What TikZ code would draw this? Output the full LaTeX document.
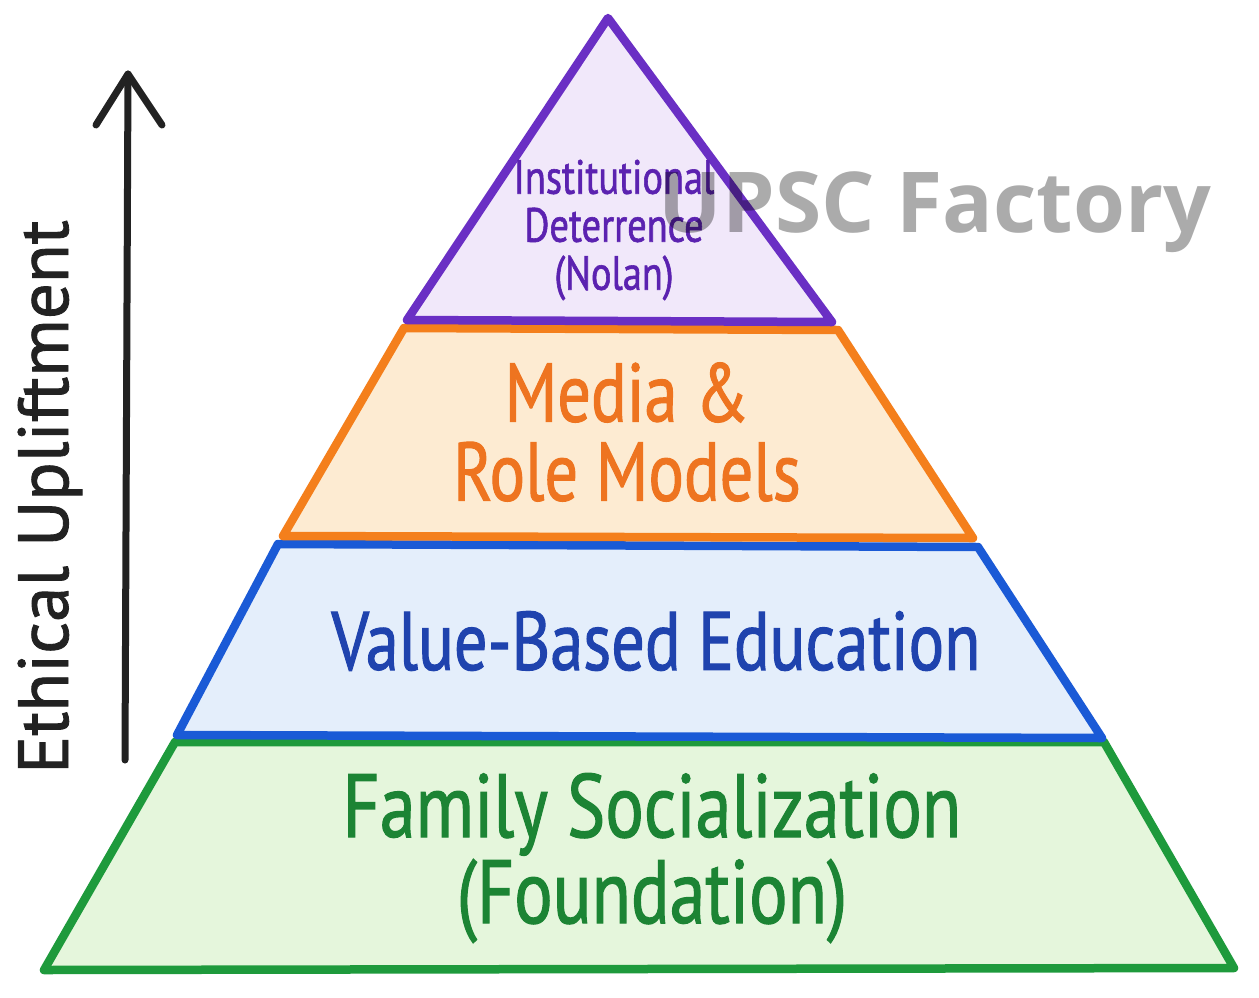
\documentclass[tikz,border=0pt]{standalone}
\usepackage{fontspec}
\newfontfamily\hand[FakeStretch=0.8,FakeBold=1.2]{PT Sans}
\newfontfamily\handwide[FakeStretch=1.0,FakeBold=1.2]{PT Sans}
\newfontfamily\wmark{Open Sans Bold}
\definecolor{pstroke}{HTML}{6A2FC4}
\definecolor{pfill}{HTML}{F1E8FA}
\definecolor{ptext}{HTML}{5B22B0}
\definecolor{ostroke}{HTML}{F47F1C}
\definecolor{ofill}{HTML}{FDEBD2}
\definecolor{otext}{HTML}{EE7420}
\definecolor{bstroke}{HTML}{1A5AD6}
\definecolor{bfill}{HTML}{E4EEFB}
\definecolor{btext}{HTML}{1F43AE}
\definecolor{gstroke}{HTML}{1E9A3C}
\definecolor{gfill}{HTML}{E5F6DC}
\definecolor{gtext}{HTML}{1C8434}
\definecolor{ink}{HTML}{222222}
\tikzset{
  layer/.style={line width=8.5pt, line join=round, line cap=round},
  lbl/.style={align=center, inner sep=0pt},
}
\begin{document}
\begin{tikzpicture}[x=1pt,y=-1pt]
\useasboundingbox (0,0) rectangle (1259,997);
\fill[white] (0,0) rectangle (1259,997);
% layers
\draw[layer, draw=gstroke, fill=gfill] (175,742) -- (1104,742) -- (1234,968) -- (44,970) -- cycle;
\draw[layer, draw=bstroke, fill=bfill] (278,544) -- (978,547) -- (1102,738) -- (177,735) -- cycle;
\draw[layer, draw=ostroke, fill=ofill] (404,328) -- (838,330) -- (973,538) -- (283,536) -- cycle;
\draw[layer, draw=pstroke, fill=pfill] (608,18) -- (832,322) -- (407,320) -- cycle;
% labels
\node[lbl, text=ptext, font={\hand\fontsize{48}{48}\selectfont}] (top) at (614,230) {Institutional\\Deterrence\\(Nolan)};
\node[lbl, text=otext, font={\hand\fontsize{83}{79}\selectfont}] (media) at (627,432) {Media \&\\Role Models};
\node[lbl, text=btext, font={\hand\fontsize{83}{80}\selectfont}] (vbe) at (656,641) {Value-Based Education};
\node[lbl, text=gtext, font={\hand\fontsize{90}{86}\selectfont}] (fam) at (652,858) {Family Socialization\\(Foundation)};
% axis
\coordinate (abot) at (125,760);
\coordinate (atop) at (128,74);
\coordinate (hl) at (96,125);
\coordinate (hr) at (162,125);
\draw[ink, line width=7pt, line cap=round] (abot) -- (atop);
\draw[ink, line width=7pt, line cap=round, line join=round] (hl) -- (atop) -- (hr);
\node[lbl, text=ink, rotate=90, font={\handwide\fontsize{71}{71}\selectfont}] (eu) at (50,497) {Ethical Upliftment};
% watermark
\node[lbl, anchor=base, text=black, text opacity=0.33, font={\wmark\fontsize{84}{84}\selectfont}] (wm) at (935,232) {UPSC Factory};
\end{tikzpicture}
\end{document}
